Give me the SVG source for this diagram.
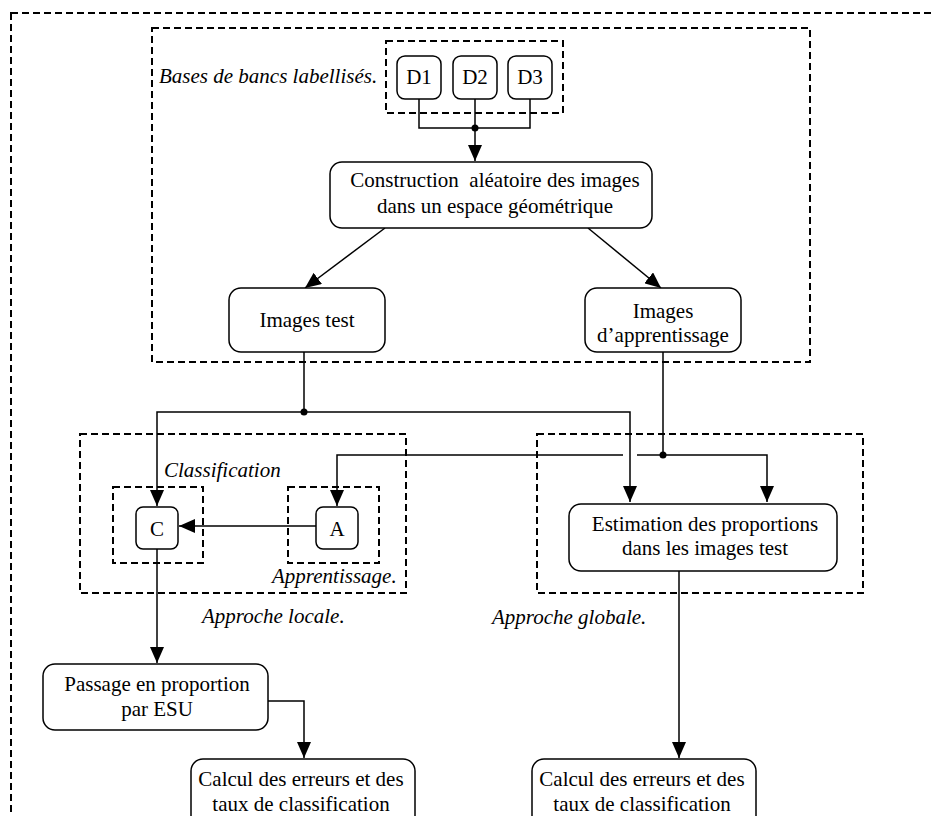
<svg xmlns="http://www.w3.org/2000/svg" width="932" height="816" viewBox="0 0 932 816">
<defs>
<marker id="ah" markerUnits="userSpaceOnUse" markerWidth="16" markerHeight="14" refX="16" refY="7" orient="auto">
<path d="M0,0 L16,7 L0,14 z" fill="#000"/>
</marker>
</defs>
<style>
.dash{fill:none;stroke:#000;stroke-width:2;stroke-dasharray:7 4}
.box{fill:#fff;stroke:#000;stroke-width:1.5}
.t{font-family:"Liberation Serif","Times New Roman",serif;font-size:21px;fill:#000;text-anchor:middle}
.it{font-family:"Liberation Serif","Times New Roman",serif;font-size:21px;font-style:italic;fill:#000}
.c{fill:none;stroke:#000;stroke-width:1.5}
.a{marker-end:url(#ah)}
</style>
<rect width="932" height="816" fill="#fff"/>
<g id="frames">
<rect class="dash" x="11" y="13" width="950" height="830"/>
<rect class="dash" x="152" y="28" width="658" height="334"/>
<rect class="dash" x="386" y="41" width="177" height="72"/>
<rect class="dash" x="80" y="434" width="326" height="159"/>
<rect class="dash" x="537" y="434" width="326" height="159"/>
<rect class="dash" x="113" y="487" width="90" height="76"/>
<rect class="dash" x="288" y="487" width="91" height="76"/>
</g>
<g id="labels">
<text class="it" x="159" y="83">Bases de bancs labellisés.</text>
<text class="it" x="164" y="477">Classification</text>
<text class="it" x="272" y="583">Apprentissage.</text>
<text class="it" x="202" y="623">Approche locale.</text>
<text class="it" x="492" y="624">Approche globale.</text>
</g>
<g id="connectors">
<path class="c" d="M419,99 V128 H530 V99"/>
<path class="c a" d="M475,99 V161"/>
<circle cx="475" cy="128" r="3.5"/>
<path class="c a" d="M385,228 L305,288"/>
<path class="c a" d="M588,228 L661,288"/>
<path class="c" d="M304,352 V412"/>
<path class="c a" d="M304,412 H157 V506"/>
<path class="c a" d="M304,412 H630 V502"/>
<circle cx="304" cy="412" r="3.5"/>
<path class="c" d="M663,352 V455"/>
<path class="c a" d="M663,455 H767 V502"/>
<path class="c" d="M663,455 H637"/>
<path class="c a" d="M623,455 H337 V506"/>
<circle cx="663" cy="455" r="3.5"/>
<path class="c a" d="M316,526 H179"/>
<path class="c a" d="M157,549 V663"/>
<path class="c a" d="M268,701 H304 V758"/>
<path class="c a" d="M679,571 V758"/>
</g>
<g id="D1"><rect class="box" x="397" y="56" width="44" height="43" rx="8"/><text class="t" x="419" y="84">D1</text></g>
<g id="D2"><rect class="box" x="453" y="56" width="44" height="43" rx="8"/><text class="t" x="475" y="84">D2</text></g>
<g id="D3"><rect class="box" x="508" y="56" width="44" height="43" rx="8"/><text class="t" x="530" y="84">D3</text></g>
<g id="construction"><rect class="box" x="330" y="162" width="322" height="66" rx="12"/><text class="t" x="495" y="187" xml:space="preserve">Construction  aléatoire des images</text><text class="t" x="495" y="213">dans un espace géométrique</text></g>
<g id="images-test"><rect class="box" x="229" y="288" width="156" height="64" rx="12"/><text class="t" x="307" y="327">Images test</text></g>
<g id="images-apprentissage"><rect class="box" x="585" y="288" width="156" height="64" rx="12"/><text class="t" x="663" y="318">Images</text><text class="t" x="663" y="342">d’apprentissage</text></g>
<g id="C"><rect class="box" x="136" y="507" width="42" height="42" rx="7"/><text class="t" x="157" y="536">C</text></g>
<g id="A"><rect class="box" x="316" y="507" width="42" height="42" rx="7"/><text class="t" x="337" y="536">A</text></g>
<g id="estimation"><rect class="box" x="569" y="504" width="268" height="67" rx="12"/><text class="t" x="705" y="531">Estimation des proportions</text><text class="t" x="705" y="555">dans les images test</text></g>
<g id="passage"><rect class="box" x="43" y="664" width="225" height="66" rx="12"/><text class="t" x="157" y="691">Passage en proportion</text><text class="t" x="157" y="716">par ESU</text></g>
<g id="calcul-local"><rect class="box" x="191" y="759" width="224" height="80" rx="12"/><text class="t" x="301" y="786">Calcul des erreurs et des</text><text class="t" x="301" y="811">taux de classification</text></g>
<g id="calcul-global"><rect class="box" x="532" y="759" width="224" height="80" rx="12"/><text class="t" x="642" y="786">Calcul des erreurs et des</text><text class="t" x="642" y="811">taux de classification</text></g>
</svg>
